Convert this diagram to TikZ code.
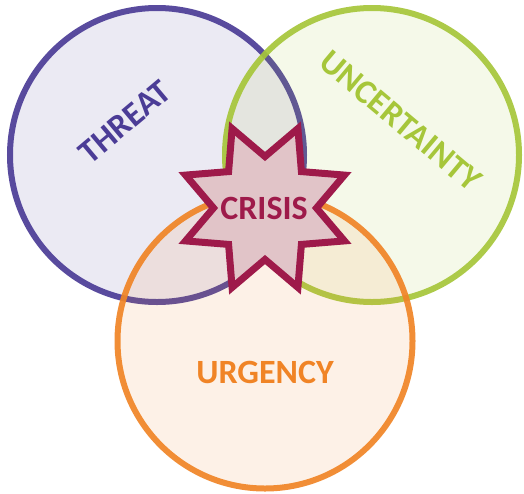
\documentclass[tikz,border=0pt]{standalone}
\usepackage{fontspec}
\setmainfont{Carlito}
\definecolor{threatc}{HTML}{4B3C96}
\definecolor{uncertc}{HTML}{A6C63A}
\definecolor{urgc}{HTML}{F08426}
\definecolor{crisisc}{HTML}{9E1A4A}
\definecolor{crisisfill}{HTML}{E1C4C8}
\tikzset{
  ring/.style={line width=6pt, fill opacity=0.11, draw opacity=0.92},
  label/.style={font=\fontsize{34}{34}\selectfont\bfseries, inner sep=0pt},
  crisisstar/.style={line width=7pt, draw=crisisc, fill=crisisfill, line join=miter}
}
\begin{document}
\begin{tikzpicture}[x=1pt,y=-1pt]
  \useasboundingbox (0,0) rectangle (524,493);
  % three overlapping circles
  \draw[ring, draw=threatc, fill=threatc] (157,155) circle[radius=147];
  \draw[ring, draw=uncertc, fill=uncertc] (372,155) circle[radius=147];
  \draw[ring, draw=urgc, fill=urgc] (265,341) circle[radius=147.5];
  % circle labels
  \node[label, text=threatc, rotate=40] (threat) at (125,122) {THREAT};
  \node[label, text=uncertc, rotate=-40] (uncert) at (401,121) {UNCERTAINTY};
  \node[label, text=urgc] (urg) at (265,372) {URGENCY};
  % eight-pointed star in the middle
  \coordinate (c) at (265,208);
  \begin{scope}[shift={(c)}]
    \draw[crisisstar] (0:51.5)
      \foreach \k in {0,...,7} { -- ({22.5+45*\k}:86) -- ({45+45*\k}:51.5) } -- cycle;
  \end{scope}
  \node[label, text=crisisc] (crisis) at ([xshift=-1pt]c) {CRISIS};
\end{tikzpicture}
\end{document}
